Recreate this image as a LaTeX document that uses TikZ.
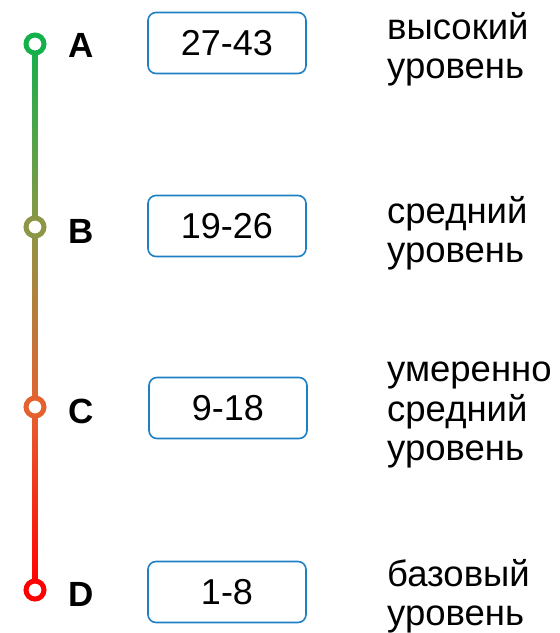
\documentclass[tikz,border=0pt]{standalone}
\usepackage{fontspec}
\setmainfont{Liberation Sans}
\definecolor{cA}{RGB}{20,176,76}
\definecolor{cB}{RGB}{140,150,70}
\definecolor{cC}{RGB}{228,98,48}
\definecolor{cD}{RGB}{255,0,0}
\definecolor{boxblue}{RGB}{30,128,196}
\begin{document}
\begin{tikzpicture}[x=1pt,y=-1pt,
  ringdot/.style={circle,line width=5pt,fill=white,minimum size=18pt,inner sep=0pt},
  lettertext/.style={font=\fontsize{35}{35}\selectfont\bfseries,anchor=west,inner sep=0pt},
  rangebox/.style={draw=boxblue,line width=1.6pt,rounded corners=8pt,minimum width=158pt,minimum height=61pt,inner sep=0pt,font=\fontsize{36}{36}\selectfont},
  levtext/.style={anchor=west,align=left,inner sep=0pt,font=\fontsize{36.5}{39.5}\selectfont}]
\useasboundingbox (0,0) rectangle (560,633);
\coordinate (pA) at (35,44);
\coordinate (pB) at (35,227);
\coordinate (pC) at (35,407);
\coordinate (pD) at (35,590);
\shade[top color=cA,bottom color=cB] ([xshift=-2.6pt]pA) rectangle ([xshift=2.6pt]pB);
\shade[top color=cB,bottom color=cC] ([xshift=-2.6pt]pB) rectangle ([xshift=2.6pt]pC);
\shade[top color=cC,bottom color=cD] ([xshift=-2.6pt]pC) rectangle ([xshift=2.6pt]pD);
\node[ringdot,draw=cA] (a) at (pA) {};
\node[ringdot,draw=cB] (b) at (pB) {};
\node[ringdot,draw=cC] (c) at (pC) {};
\node[ringdot,draw=cD] (d) at (pD) {};
\node[lettertext] (la) at (68,45) {A};
\node[lettertext] (lb) at (68,231) {B};
\node[lettertext] (lc) at (68,411) {C};
\node[lettertext] (ld) at (68,594) {D};
\node[rangebox] (ra) at (227,43) {27-43};
\node[rangebox] (rb) at (227,226) {19-26};
\node[rangebox] (rc) at (228,408) {9-18};
\node[rangebox] (rd) at (227,592) {1-8};
\node[levtext] (ta) at (387,49) {высокий\\уровень};
\node[levtext] (tb) at (387,233) {средний\\уровень};
\node[levtext] (tc) at (387,415) {умеренно\\средний\\уровень};
\node[levtext] (td) at (387,596) {базовый\\уровень};
\end{tikzpicture}
\end{document}
